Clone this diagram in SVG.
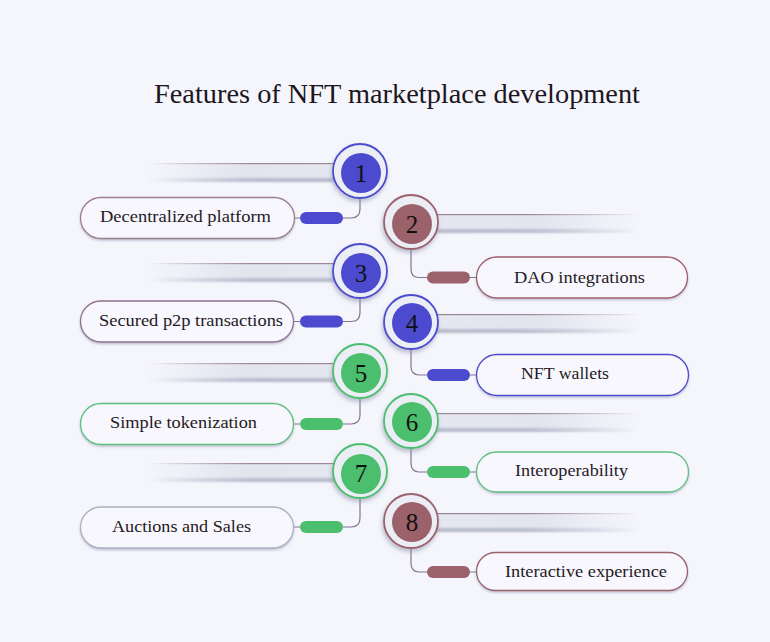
<svg xmlns="http://www.w3.org/2000/svg" width="770" height="642" viewBox="0 0 770 642">
<defs>
<linearGradient id="fadeL" x1="0" y1="0" x2="1" y2="0"><stop offset="0" stop-color="#e2e4ee" stop-opacity="0"/><stop offset="0.45" stop-color="#e2e4ee" stop-opacity="1"/><stop offset="1" stop-color="#e6e8f1"/></linearGradient>
<linearGradient id="shadeL" x1="0" y1="0" x2="1" y2="0"><stop offset="0" stop-color="#b2b7c8" stop-opacity="0"/><stop offset="0.5" stop-color="#b2b7c8" stop-opacity="0.85"/><stop offset="1" stop-color="#b8bccb"/></linearGradient>
<linearGradient id="fadeR" x1="1" y1="0" x2="0" y2="0"><stop offset="0" stop-color="#e2e4ee" stop-opacity="0"/><stop offset="0.45" stop-color="#e2e4ee" stop-opacity="1"/><stop offset="1" stop-color="#e6e8f1"/></linearGradient>
<linearGradient id="shadeR" x1="1" y1="0" x2="0" y2="0"><stop offset="0" stop-color="#b2b7c8" stop-opacity="0"/><stop offset="0.5" stop-color="#b2b7c8" stop-opacity="0.85"/><stop offset="1" stop-color="#b8bccb"/></linearGradient>
<linearGradient id="lineL" x1="0" y1="0" x2="1" y2="0"><stop offset="0" stop-color="#9a8694" stop-opacity="0"/><stop offset="0.5" stop-color="#9a8694" stop-opacity="1"/></linearGradient>
<linearGradient id="lineR" x1="1" y1="0" x2="0" y2="0"><stop offset="0" stop-color="#9a8694" stop-opacity="0"/><stop offset="0.5" stop-color="#9a8694" stop-opacity="1"/></linearGradient>
<filter id="sh" x="-30%" y="-30%" width="160%" height="170%"><feDropShadow dx="-1" dy="3" stdDeviation="2" flood-color="#8c92ab" flood-opacity="0.55"/></filter>
<filter id="bsh" x="-5%" y="-20%" width="110%" height="150%"><feDropShadow dx="0" dy="1.5" stdDeviation="0.8" flood-color="#9aa0b6" flood-opacity="0.6"/></filter>
<filter id="soft" x="-5%" y="-100%" width="110%" height="300%"><feGaussianBlur stdDeviation="1"/></filter>
</defs>
<style>
.title{font-family:"Liberation Serif","DejaVu Serif",serif;font-size:27px;fill:#1c1620;text-anchor:middle}
.lbl{font-family:"Liberation Serif","DejaVu Serif",serif;font-size:17px;fill:#261a24;text-anchor:middle}
.num{font-family:"Liberation Serif","DejaVu Serif",serif;font-size:25px;fill:#111;text-anchor:middle}
.ring{fill:#eceef6;stroke-width:1.8;filter:url(#sh)}
.box{fill:#f7f7fd;stroke-width:1.3;filter:url(#bsh)}
.conn{fill:none;stroke:#7f7790;stroke-width:1.2}
.shd{filter:url(#soft)}
.blue{fill:#4c4bcf}.mauve{fill:#9b626c}.green{fill:#4bbf6e}
.sblue{stroke:#4c4bcf}.smauve{stroke:#9b626c}.sgreen{stroke:#4bbf6e}
</style>
<rect width="770" height="642" fill="#f5f5fc"/>
<text class="title" x="397" y="103" textLength="486" lengthAdjust="spacingAndGlyphs">Features of NFT marketplace development</text>

<g id="connectors">
<path class="conn" d="M360,198 V209 Q360,218 351,218 H343 M294,218 H300"/>
<path class="conn" d="M411,249 V269 Q411,277.5 419,277.5 H427 M470,277.5 H476"/>
<path class="conn" d="M360,298 V313 Q360,321.5 351,321.5 H343 M294,321.5 H300"/>
<path class="conn" d="M411,349 V366 Q411,375 419,375 H427 M470,375 H476"/>
<path class="conn" d="M360,398 V415 Q360,424 351,424 H343 M294,424 H300"/>
<path class="conn" d="M411,448 V463 Q411,472 419,472 H427 M470,472 H476"/>
<path class="conn" d="M360,498 V518 Q360,527 351,527 H343 M294,527 H300"/>
<path class="conn" d="M411,548 V563 Q411,572 419,572 H427 M470,572 H476"/>
</g>

<g id="node1">
<rect x="147" y="163" width="213" height="19" fill="url(#fadeL)"/>
<rect class="shd" x="147" y="178" width="213" height="4" fill="url(#shadeL)"/>
<rect x="147" y="163" width="213" height="1.2" fill="url(#lineL)"/>
<circle class="ring sblue" cx="360" cy="171" r="27"/>
<circle class="blue" cx="361" cy="173" r="20"/>
<text class="num" x="361" y="182">1</text>
<rect class="blue" x="300" y="212" width="43" height="12" rx="6"/>
<rect class="box" x="80.5" y="197.5" width="214" height="41" rx="20.5" stroke="#9d7f8c"/>
<text class="lbl" x="185.5" y="222" textLength="171" lengthAdjust="spacingAndGlyphs">Decentralized platform</text>
</g>

<g id="node2">
<rect x="411" y="214" width="229" height="19" fill="url(#fadeR)"/>
<rect class="shd" x="411" y="229" width="229" height="4" fill="url(#shadeR)"/>
<rect x="411" y="214" width="229" height="1.2" fill="url(#lineR)"/>
<circle class="ring smauve" cx="411" cy="222" r="27"/>
<circle class="mauve" cx="412" cy="224" r="20"/>
<text class="num" x="412" y="233">2</text>
<rect class="mauve" x="427" y="271.5" width="43" height="12" rx="6"/>
<rect class="box" x="476.5" y="257" width="211" height="41" rx="20.5" stroke="#a0616d"/>
<text class="lbl" x="579.5" y="283" textLength="131" lengthAdjust="spacingAndGlyphs">DAO integrations</text>
</g>

<g id="node3">
<rect x="147" y="263" width="213" height="19" fill="url(#fadeL)"/>
<rect class="shd" x="147" y="278" width="213" height="4" fill="url(#shadeL)"/>
<rect x="147" y="263" width="213" height="1.2" fill="url(#lineL)"/>
<circle class="ring sblue" cx="360" cy="271" r="27"/>
<circle class="blue" cx="361" cy="273" r="20"/>
<text class="num" x="361" y="282">3</text>
<rect class="blue" x="300" y="315.5" width="43" height="12" rx="6"/>
<rect class="box" x="80.5" y="301" width="213" height="41" rx="20.5" stroke="#8e7390"/>
<text class="lbl" x="191" y="326" textLength="184" lengthAdjust="spacingAndGlyphs">Secured p2p transactions</text>
</g>

<g id="node4">
<rect x="411" y="314" width="229" height="19" fill="url(#fadeR)"/>
<rect class="shd" x="411" y="329" width="229" height="4" fill="url(#shadeR)"/>
<rect x="411" y="314" width="229" height="1.2" fill="url(#lineR)"/>
<circle class="ring sblue" cx="411" cy="322" r="27"/>
<circle class="blue" cx="412" cy="323" r="20"/>
<text class="num" x="412" y="332">4</text>
<rect class="blue" x="427" y="369" width="43" height="12" rx="6"/>
<rect class="box" x="476.5" y="354.5" width="212" height="41" rx="20.5" stroke="#4c4bcf"/>
<text class="lbl" x="565" y="379" textLength="88" lengthAdjust="spacingAndGlyphs">NFT wallets</text>
</g>

<g id="node5">
<rect x="147" y="363" width="213" height="19" fill="url(#fadeL)"/>
<rect class="shd" x="147" y="378" width="213" height="4" fill="url(#shadeL)"/>
<rect x="147" y="363" width="213" height="1.2" fill="url(#lineL)"/>
<circle class="ring sgreen" cx="360" cy="371" r="27"/>
<circle class="green" cx="361" cy="373" r="20"/>
<text class="num" x="361" y="382">5</text>
<rect class="green" x="300" y="418" width="43" height="12" rx="6"/>
<rect class="box" x="80.5" y="403.5" width="213" height="41" rx="20.5" stroke="#5fbf80"/>
<text class="lbl" x="183.5" y="428" textLength="147" lengthAdjust="spacingAndGlyphs">Simple tokenization</text>
</g>

<g id="node6">
<rect x="411" y="413" width="229" height="19" fill="url(#fadeR)"/>
<rect class="shd" x="411" y="428" width="229" height="4" fill="url(#shadeR)"/>
<rect x="411" y="413" width="229" height="1.2" fill="url(#lineR)"/>
<circle class="ring sgreen" cx="411" cy="421" r="27"/>
<circle class="green" cx="412" cy="422" r="20"/>
<text class="num" x="412" y="431">6</text>
<rect class="green" x="427" y="466" width="43" height="12" rx="6"/>
<rect class="box" x="476.5" y="452" width="212" height="40" rx="20" stroke="#5fbf80"/>
<text class="lbl" x="571.5" y="476" textLength="113" lengthAdjust="spacingAndGlyphs">Interoperability</text>
</g>

<g id="node7">
<rect x="147" y="463" width="213" height="19" fill="url(#fadeL)"/>
<rect class="shd" x="147" y="478" width="213" height="4" fill="url(#shadeL)"/>
<rect x="147" y="463" width="213" height="1.2" fill="url(#lineL)"/>
<circle class="ring sgreen" cx="360" cy="471" r="27"/>
<circle class="green" cx="361" cy="474" r="20"/>
<text class="num" x="361" y="482">7</text>
<rect class="green" x="300" y="521" width="43" height="12" rx="6"/>
<rect class="box" x="80.5" y="507" width="213" height="41" rx="20.5" stroke="#acb1c2"/>
<text class="lbl" x="181.5" y="532" textLength="139" lengthAdjust="spacingAndGlyphs">Auctions and Sales</text>
</g>

<g id="node8">
<rect x="411" y="513" width="229" height="19" fill="url(#fadeR)"/>
<rect class="shd" x="411" y="528" width="229" height="4" fill="url(#shadeR)"/>
<rect x="411" y="513" width="229" height="1.2" fill="url(#lineR)"/>
<circle class="ring smauve" cx="411" cy="521" r="27"/>
<circle class="mauve" cx="412" cy="522" r="20"/>
<text class="num" x="412" y="531">8</text>
<rect class="mauve" x="427" y="566" width="43" height="12" rx="6"/>
<rect class="box" x="476.5" y="552.5" width="211" height="38" rx="19" stroke="#9b626c"/>
<text class="lbl" x="586" y="577" textLength="162" lengthAdjust="spacingAndGlyphs">Interactive experience</text>
</g>
</svg>
